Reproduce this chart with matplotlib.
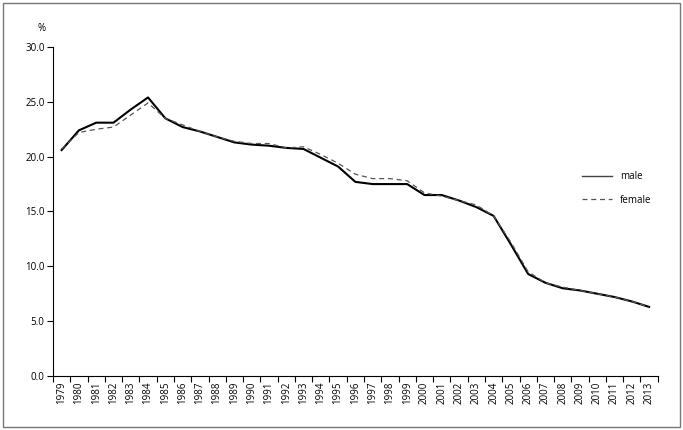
import matplotlib
matplotlib.use("Agg")
import matplotlib.pyplot as plt
from matplotlib.patches import Rectangle
import numpy as np

years = [str(y) for y in range(1979, 2014)]
male = [20.6, 22.4, 23.1, 23.1, 24.3, 25.4, 23.5, 22.7, 22.3, 21.8, 21.3, 21.1, 21.0, 20.8,
        20.7, 19.9, 19.1, 17.7, 17.5, 17.5, 17.5, 16.5, 16.5, 16.0, 15.4, 14.6, 12.0, 9.3,
        8.5, 8.0, 7.8, 7.5, 7.2, 6.8, 6.3]
female = [20.7, 22.2, 22.5, 22.7, 23.8, 24.9, 23.5, 22.9, 22.3, 21.8, 21.4, 21.2, 21.2, 20.8,
          20.9, 20.2, 19.4, 18.4, 18.0, 18.0, 17.8, 16.7, 16.4, 16.0, 15.6, 14.6, 12.2, 9.5,
          8.5, 8.1, 7.8, 7.5, 7.2, 6.8, 6.3]
yticks = [0.0, 5.0, 10.0, 15.0, 20.0, 25.0, 30.0]

plt.rcParams['font.family'] = ['Open Sans', 'DejaVu Sans']

fig = plt.figure(figsize=(6.83, 4.30), dpi=100)
fig.patches.append(Rectangle((0.005, 0.007), 0.99, 0.986, transform=fig.transFigure,
                             fill=False, edgecolor='#777777', linewidth=1.0))
ax = fig.add_axes([0.0776, 0.1256, 0.8854, 0.7651])

x = np.arange(len(years))
ax.plot(x, male, color='black', linewidth=1.5, label='male')
ax.plot(x, female, color='#555555', linewidth=0.9, linestyle=(0, (4, 3)), label='female')

ax.set_xlim(-0.5, len(years) - 0.5)
ax.set_ylim(0, 30)
ax.set_yticks(yticks)
ax.set_yticklabels([f"{v:.1f}" for v in yticks], fontsize=7)
ax.set_xticks(np.arange(-0.5, len(years), 1.0))
ax.set_xticklabels([])
ax.set_xticks(x, minor=True)
ax.set_xticklabels(years, minor=True, rotation=90, fontsize=7)
ax.tick_params(axis='x', which='major', length=4, width=0.8, direction='out')
ax.tick_params(axis='x', which='minor', length=0, pad=4)
ax.tick_params(axis='y', length=4, width=0.8, pad=2)
for s in ['top', 'right']:
    ax.spines[s].set_visible(False)
for s in ['left', 'bottom']:
    ax.spines[s].set_linewidth(0.8)

ax.text(-0.012, 1.04, '%', transform=ax.transAxes, fontsize=7, ha='right', va='bottom')

leg = ax.legend(loc='center left', bbox_to_anchor=(0.86, 0.57), frameon=False, fontsize=7,
                handlelength=3.1, labelspacing=1.3, handletextpad=0.8)
leg.get_lines()[0].set_linewidth(1.0)
leg.get_lines()[0].set_color('#444444')

fig.savefig('out.png', dpi=100)
